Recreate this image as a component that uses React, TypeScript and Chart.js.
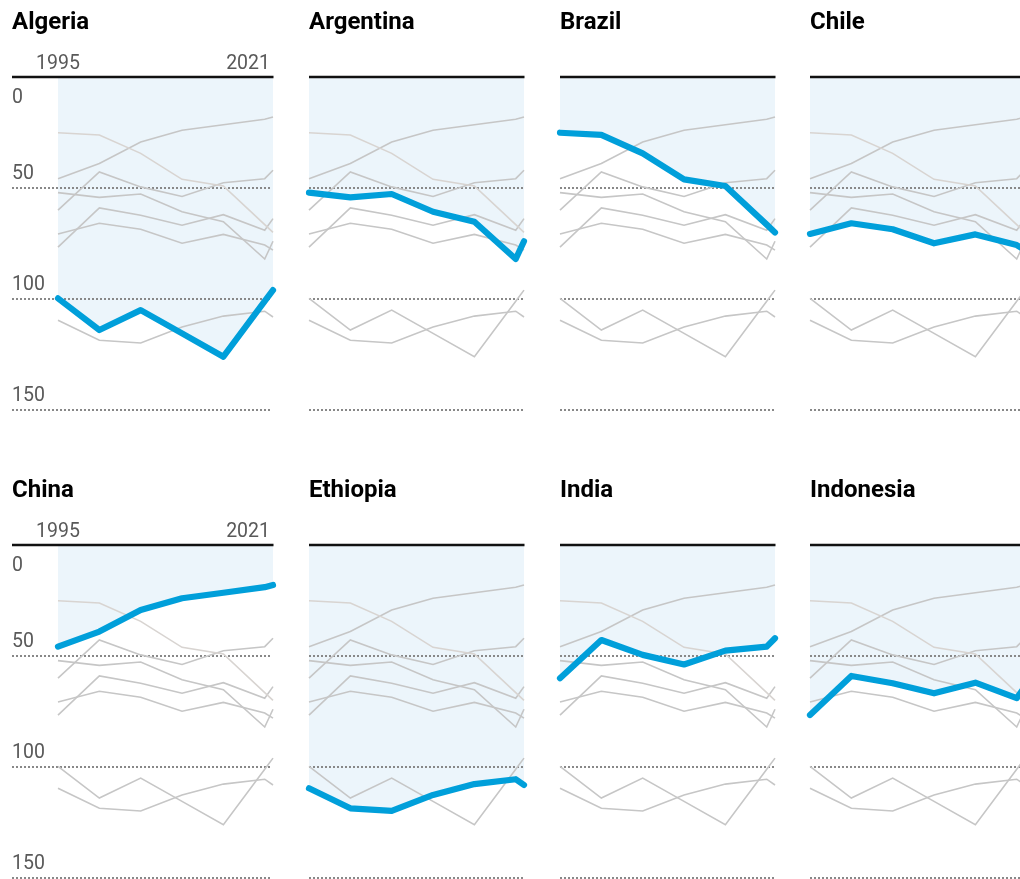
import React, { useEffect, useRef } from 'react';
import { Chart, registerables } from 'chart.js';

Chart.register(...registerables);

// ---- Data ----
const years = [1995, 2000, 2005, 2010, 2015, 2020, 2021];
const countries = ['Algeria', 'Argentina', 'Brazil', 'Chile', 'China', 'Ethiopia', 'India', 'Indonesia'];
const algeria = [99.7, 114, 105, 115.5, 126, 101, 96];
const argentina = [52.1, 54.2, 52.7, 60.7, 65.2, 82, 74];
const brazil = [25.1, 26.1, 34.4, 46.1, 49.1, 66.5, 70];
const chile = [70.7, 65.9, 68.6, 74.9, 70.9, 75.7, 78];
const china = [45.8, 39, 29.3, 24, 21.5, 19, 18];
const ethiopia = [109.6, 118.6, 119.8, 112.6, 107.7, 105.5, 108.1];
const india = [60, 42.8, 49.5, 53.8, 47.6, 45.8, 42];
const indonesia = [76.6, 59, 62.3, 66.8, 62, 69, 63.8];
const seriesValues = [algeria, argentina, brazil, chile, china, ethiopia, india, indonesia];
const yTicks = [0, 50, 100, 150];
const yearTickLabels = ['1995', '2021'];

// ---- Styles / layout ----
const BLUE = '#009fda';
const FILL = '#ecf5fb';
const GREY = '#c6c6c6';
const GREY_LIGHT = '#d8d4d1';
const DATA_LEFT = [58, 309, 560, 810];
const ROW_TOP = [77, 545];
const PLOT_W = 215;
const PLOT_H = 333;
const PAD_L = 58;
const PAD_R = 14;
const PAD_T = 77;
const PAD_B = 20;
const FONT = 'Roboto, "Noto Sans", sans-serif';

function Panel({ idx }: { idx: number }) {
  const ref = useRef<HTMLCanvasElement>(null);
  const r = Math.floor(idx / 4);
  const c = idx % 4;
  const W = PAD_L + PLOT_W + PAD_R;
  const H = PAD_T + PLOT_H + PAD_B;
  const left = DATA_LEFT[c] - PAD_L;
  const top = ROW_TOP[r] - PAD_T;

  useEffect(() => {
    const name = countries[idx];
    const toPts = (vals: number[]) => vals.map((v, i) => ({ x: years[i], y: v }));
    const datasets: any[] = [
      {
        label: name,
        data: toPts(seriesValues[idx]),
        borderColor: BLUE,
        borderWidth: 6.2,
        borderCapStyle: 'round',
        borderJoinStyle: 'round',
        backgroundColor: FILL,
        fill: { value: 0 },
        pointRadius: 0,
        tension: 0,
        clip: false,
      },
      ...countries.map((cn, i) => ({
        label: cn + ' (all)',
        data: toPts(seriesValues[i]),
        borderColor: cn === 'Brazil' ? GREY_LIGHT : GREY,
        borderWidth: 1.6,
        fill: false,
        pointRadius: 0,
        tension: 0,
        clip: false,
      })),
    ];

    const panelPlugin = {
      id: 'panelDecor',
      beforeDatasetsDraw(chart: any) {
        const { ctx, chartArea: a, scales } = chart;
        const x0 = c === 0 ? 12 : Math.round(a.left);
        const x1 = c === 0 ? a.right - 1.5 : a.right;
        ctx.save();
        ctx.strokeStyle = '#888';
        ctx.lineWidth = 2;
        ctx.setLineDash([2, 2]);
        yTicks.slice(1).forEach((v) => {
          const y = Math.round(scales.y.getPixelForValue(v));
          ctx.beginPath();
          ctx.moveTo(x0, y);
          ctx.lineTo(x1, y);
          ctx.stroke();
        });
        ctx.restore();
      },
      afterDraw(chart: any) {
        const { ctx, chartArea: a, scales } = chart;
        const x0 = c === 0 ? 12 : a.left;
        ctx.save();
        // top rule
        ctx.strokeStyle = '#111';
        ctx.lineWidth = 2.6;
        ctx.beginPath();
        ctx.moveTo(x0, a.top);
        ctx.lineTo(a.right + 0.5, a.top);
        ctx.stroke();
        // title
        ctx.fillStyle = '#000';
        ctx.font = 'bold 24px ' + FONT;
        ctx.textAlign = 'left';
        ctx.textBaseline = 'alphabetic';
        ctx.fillText(name, x0, a.top - 47.7);
        if (c === 0) {
          ctx.fillStyle = '#595959';
          ctx.font = '19.5px ' + FONT;
          ctx.textAlign = 'center';
          ctx.fillText(yearTickLabels[0], scales.x.getPixelForValue(Number(yearTickLabels[0])), a.top - 8);
          ctx.textAlign = 'right';
          ctx.fillText(yearTickLabels[1], a.right - 3, a.top - 8);
          ctx.textAlign = 'left';
          yTicks.forEach((v) => {
            const y = scales.y.getPixelForValue(v);
            ctx.fillText(String(v), 12, v === 0 ? y + 26 : y - 9.5);
          });
        }
        ctx.restore();
      },
    };

    const chart = new Chart(ref.current as HTMLCanvasElement, {
      type: 'line',
      data: { datasets },
      options: {
        responsive: false,
        animation: false,
        layout: { padding: { left: PAD_L, right: PAD_R, top: PAD_T, bottom: PAD_B } },
        scales: {
          x: { type: 'linear', min: 1995, max: 2021, display: false },
          y: { type: 'linear', min: 0, max: 150, reverse: true, display: false },
        },
        plugins: {
          legend: { display: false },
          tooltip: { enabled: false },
          title: { display: false },
          filler: { drawTime: 'beforeDatasetsDraw' },
        } as any,
        events: [],
      },
      plugins: [panelPlugin],
    });
    return () => chart.destroy();
  }, []);

  return (
    <canvas
      ref={ref}
      width={W}
      height={H}
      style={{ position: 'absolute', left, top, width: W, height: H }}
    />
  );
}

export default function App() {
  return (
    <div
      style={{
        position: 'fixed',
        left: 0,
        top: 0,
        width: 1020,
        height: 879,
        overflow: 'hidden',
        background: '#fff',
      }}
    >
      {countries.map((_, i) => (
        <Panel key={i} idx={i} />
      ))}
    </div>
  );
}
